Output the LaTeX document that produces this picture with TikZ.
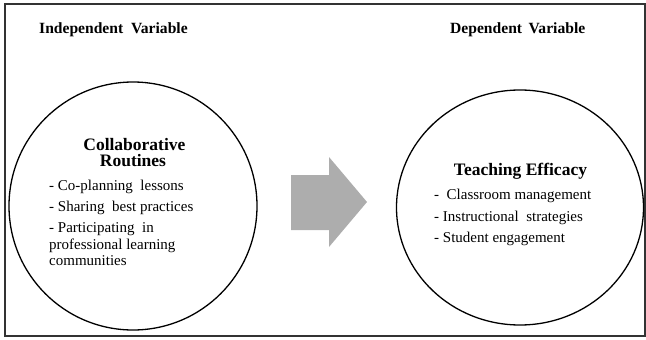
\documentclass[tikz,border=0pt]{standalone}
\usepackage{fontspec}
\setmainfont{Liberation Serif}
\usetikzlibrary{shapes.geometric}
\begin{document}
\begin{tikzpicture}[x=1pt,y=-1pt,
  head/.style={font=\fontsize{15.6}{17}\selectfont\bfseries, anchor=base west, inner sep=0pt},
  ttl/.style={font=\fontsize{17.5}{18}\selectfont\bfseries, anchor=base, inner sep=0pt},
  item/.style={font=\fontsize{15}{17}\selectfont, anchor=base west, inner sep=0pt},
  ring/.style={draw=black, line width=1.3pt}]
\useasboundingbox (0,0) rectangle (646,340);
\draw[line width=1.1pt, draw=black!80] (5,4) rectangle (645,336);
\node[head] (iv) at (39,33.3) {Independent\ \ Variable};
\node[head] (dv) at (450,33.3) {Dependent\ \,Variable};
\node[ring, circle, minimum size=248pt, inner sep=0pt] (c1) at (133,206) {};
\node[ring, ellipse, minimum width=247pt, minimum height=235pt, inner sep=0pt] (c2) at (520,207.5) {};
\node[ttl] (t1a) at (134.4,150.5) {Collaborative};
\node[ttl] (t1b) at (133,166.7) {Routines};
\node[item] (a1) at (49,190) {- Co-planning\ \ lessons};
\node[item] (a2) at (49,211.5) {- Sharing\ \ best practices};
\node[item] (a3) at (49,232.5) {- Participating\ \ in};
\node[item] (a4) at (49,249) {professional learning};
\node[item] (a5) at (49,265) {communities};
\node[ttl] (t2) at (520.5,175) {Teaching Efficacy};
\node[item] (b1) at (434,199) {-\ \ Classroom management};
\node[item] (b2) at (434,221.5) {- Instructional\ \ strategies};
\node[item] (b3) at (434,242) {- Student engagement};
\fill[black!32] (291,175) -- (329,175) -- (329,157) -- (367,202) -- (329,247) -- (329,230) -- (291,230) -- cycle;
\end{tikzpicture}
\end{document}
